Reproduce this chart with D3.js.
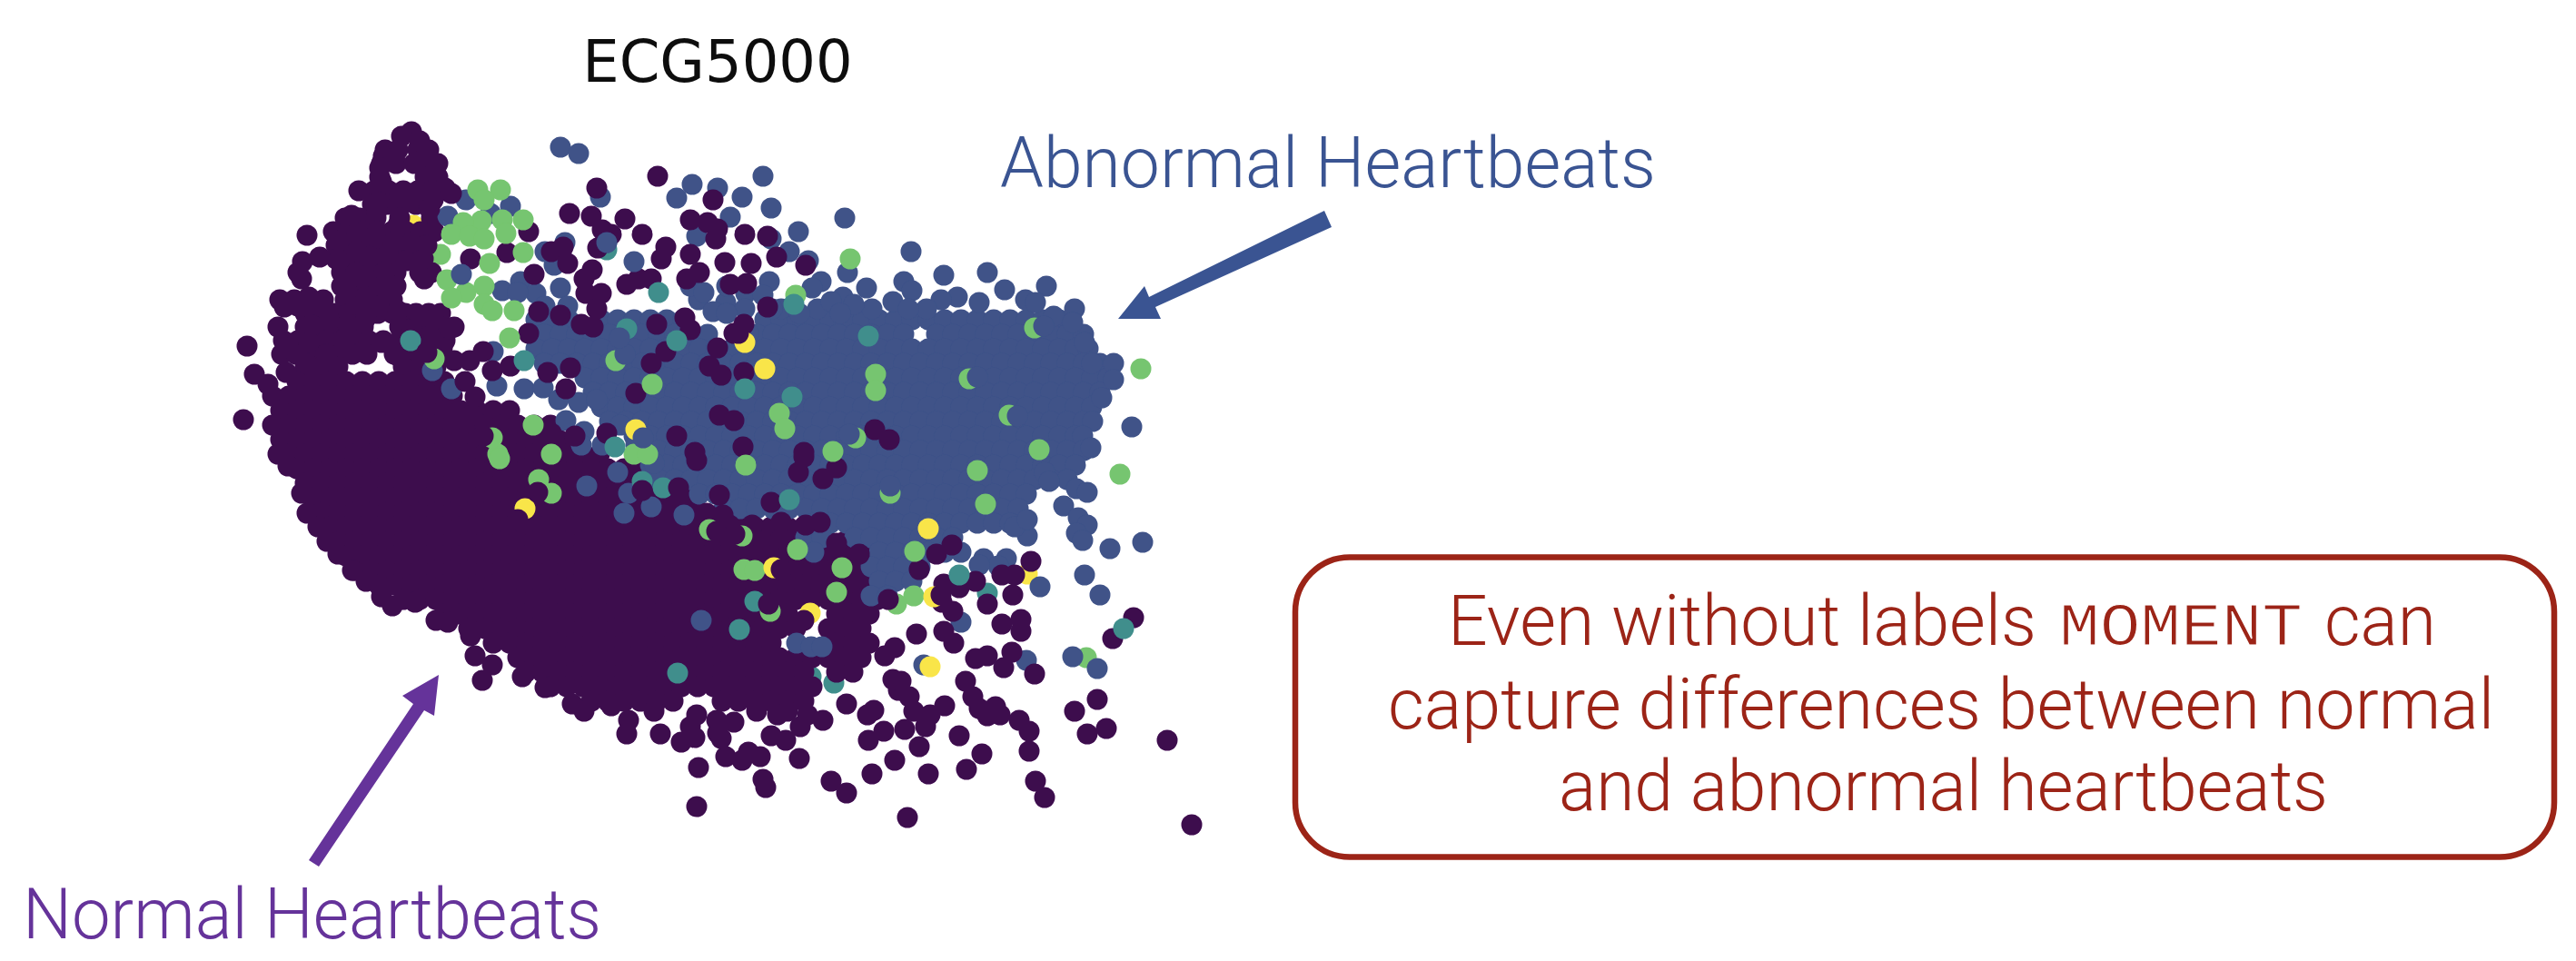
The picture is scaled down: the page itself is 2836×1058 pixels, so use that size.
<!DOCTYPE html>
<html>
<head>
<meta charset="utf-8">
<title>ECG5000</title>
<script src="https://cdn.jsdelivr.net/npm/d3@7"></script>
<style>
  html, body { margin: 0; padding: 0; background: #fff; }
  svg { display: block; }
  .label { font-family: Roboto, "Liberation Sans", sans-serif; font-weight: 300; }
</style>
</head>
<body>
<div id="chart"></div>
<script>
// Class names and colours (viridis, five ECG classes)
const classNames = ['normal', 'abnormal', 'teal', 'green', 'yellow'];
const classColors = ['#3d0a4e', '#3f5288', '#3f8e8c', '#76c56f', '#f9e54a'];

// Embedding values. Dense areas as rows: [v, [u, u, ...]]
const normalRows = [
  // upper left ridge
  [65, [224,238,260,272]],
  [80, [220,236,256,272,282]],
  [95, [218,268,282]],
  [110, [212,228,244,260,276,292]],
  [125, [210,226,242,258,272]],
  [140, [180,196,214,240,275]],
  [155, [167,183,199,215,231,247,263,278]],
  [170, [170,186,202,218,234,250,268]],
  [185, [170,186,202,218,234,250,266]],
  [200, [176,192,208,224,236,262,275]],
  [215, [176,192,208,224,236]],
  [230, [108,124,140,156,180,196,212,232]],
  [245, [136,152,168,184,200,216,232,246,258,272,285]],
  [260, [136,152,168,184,200,240,256,272,288,300]],
  [275, [112,128,144,160,176,190,206,222,240,256,272,290]],
  [290, [110,126,142,158,174,188,204,234,250,265]],
  // dense band
  [304, [136,154,172,244,262,280]],
  [320, [127,145,163,181,199,217,235,253,271,289]],
  [336, [100,118,136,154,172,190,208,226,244,262,280,298]],
  [352, [109,127,145,163,181,199,217,235,253,271,289,307,325,343,361]],
  [368, [100,118,136,154,172,190,208,226,244,262,280,298,316,334,352,370,388,406]],
  [384, [109,127,145,163,181,199,217,235,253,271,289,307,325,343,361,379,397,415,433]],
  [400, [106,118,136,154,172,190,208,226,244,262,280,298,316,334,352,370,388,406,424,442,460]],
  [416, [127,145,163,181,199,217,235,253,271,289,307,325,343,361,379,397,415,433,451,469,487,505]],
  [432, [136,154,172,190,208,226,244,262,280,298,316,334,352,370,388,406,424,442,460,478,496,514,532,550]],
  [448, [145,163,181,199,217,235,253,271,289,307,325,343,361,379,397,415,433,451,469,487,505,523,541,559]],
  [464, [154,172,190,208,226,244,262,280,298,316,334,352,370,388,406,424,442,460,478,496,514,532,550,568]],
  [480, [163,181,199,217,235,253,271,289,307,325,343,361,379,397,415,433,451,469,487,505,523,541,559,577,595,613,631,649,667,685,703]],
  [496, [172,190,208,226,244,262,280,298,316,334,352,370,388,406,424,442,460,478,496,514,532,550,568,586,604,622,640,658,676,694,712,730,748]],
  [512, [181,199,217,235,253,271,289,307,325,343,361,379,397,415,433,451,469,487,505,523,541,559,577,595,613,631,649,667,685,703,721,739,757]],
  [528, [190,208,226,244,262,280,298,316,334,352,370,388,406,424,442,460,478,496,514,532,550,568,586,604,622,640,658,676,694,712,730,748]],
  [544, [217,235,253,271,289,307,325,343,361,379,397,415,433,451,469,487,505,523,541,559,577,595,613,631,649,667,685,703,721,739,757]],
  [560, [244,262,280,298,316,334,352,370,388,406,424,442,460,478,496,514,532,550,568,586,604,622,640,658,676,694,712,730,748,766]],
  [576, [289,307,325,343,361,379,397,415,433,451,469,487,505,523,541,559,577,595,613,631,649,667,721,739,757]],
  [592, [316,334,352,370,388,406,424,442,460,478,496,514,532,550,568,586,604,622,640,658,676,712,730,748]],
  [608, [343,361,379,397,415,433,451,469,487,505,523,541,559,577,595,613,631,649,721,739,757]],
  [624, [370,388,406,424,442,460,478,496,514,532,550,568,586,604,622,640,658,676,694,712,730,748]],
  [640, [379,397,415,433,451,469,487,505,523,541,559,577,595,613,631,649,667,685,721,739]],
  [656, [406,424,442,460,478,496,514,532,550,568,586,604,622,640,658,676,694]],
  [672, [451,469,487,505,523,541,595,613,631,649,667,685]]
];

const abnormalRows = [
  [252, [390,408,426,462,480,498,516,534,552,642,660,678,696,714,732,750,768,786,804,822,840,858,876,894,912,930,948,966]],
  [268, [399,417,435,453,471,489,507,525,543,561,579,633,651,669,687,705,723,741,759,777,795,831,849,867,885,903,921,939,957,975,993]],
  [284, [390,408,426,444,462,480,498,516,534,552,570,588,606,624,642,660,678,696,714,732,750,768,786,804,822,840,858,876,894,912,930,948,966,984,998]],
  [300, [399,417,435,453,471,489,507,525,543,561,579,597,615,633,651,669,687,705,723,741,759,777,795,813,831,849,867,885,903,921,939,957,975,993,1011]],
  [316, [444,462,480,498,516,534,552,570,588,606,624,642,660,678,696,714,732,750,768,786,804,822,840,858,876,894,912,930,948,966,984,1002,1020]],
  [332, [453,471,489,507,525,543,561,579,597,615,633,651,669,687,705,723,741,759,777,795,813,831,849,867,885,903,921,939,957,975,993,1011]],
  [348, [462,480,498,516,534,552,570,588,606,624,642,660,678,696,714,732,750,768,786,804,822,840,858,876,894,912,930,948,966,984,1002]],
  [364, [471,489,507,525,543,561,579,597,615,633,651,669,687,705,723,741,759,777,795,813,831,849,867,885,903,921,939,957,975,993,1003]],
  [380, [498,516,534,552,570,588,606,624,642,660,678,696,714,732,750,768,786,804,822,840,858,876,894,912,930,948,966,984,992]],
  [396, [507,525,543,561,579,597,615,633,651,669,687,705,723,741,759,777,795,813,831,849,867,885,903,921,939,957,975,993]],
  [412, [516,534,552,570,588,606,624,642,660,678,696,714,732,750,768,786,804,822,840,858,876,894,912,930,948,966,984]],
  [428, [525,543,561,579,597,615,633,651,669,687,705,723,741,759,777,795,813,831,849,867,885,903,921,939,957,975]],
  [444, [570,588,606,624,642,660,678,696,714,732,750,768,786,804,822,840,858,876,894,912,930]],
  [460, [597,615,633,651,669,687,705,723,741,759,777,795,813,831,849,867,885,903,921]],
  [476, [696,714,732,750,768,786,804,822,840,858,876,894,912]],
  [492, [687,705,741,759,777,795,813,831,849]],
  [508, [696,768,786,804,822,840,858]],
  [524, [759,777,795,813]],
  [540, [768,786,804]],
  [556, [759,777]]
];

// Single points around the dense areas
const normalScatter = [
  // upper left ridge
  [253,45],[242,50],[262,55],[270,67],[222,72],[233,75],[280,83],[218,85],[220,100],[290,107],[195,110],[297,113],
  [240,117],[260,115],[277,120],[217,123],[187,137],[215,132],[273,130],[238,148],[138,159],[173,165],[193,157],[213,160],
  [233,167],[253,167],[270,170],[152,183],[133,188],[128,200],[132,207],[173,187],[193,177],[207,183],[227,180],[247,187],
  [263,187],[267,207],[223,200],[183,210],[203,207],[217,217],[183,223],[203,227],[227,223],[140,227],[113,238],[128,237],
  [152,237],[238,242],[262,248],[277,252],[217,237],[197,237],[295,262],[287,283],[106,260],[143,258],[163,253],[183,257],
  [203,250],[253,263],[273,270],[72,281],[118,283],[140,277],[180,273],[200,287],[220,277],[240,293],[260,287],[80,312],
  [95,323],[115,310],[137,300],[160,290],[68,362],
  // lower edge of the dense band
  [117,413],[132,443],[138,465],[150,480],[160,496],[172,510],[188,528],[203,540],[220,557],[232,567],[257,563],[280,583],[293,585],
  [318,600],[323,622],[342,632],[331,649],[375,645],[400,657],[430,675],[443,683],[473,677],[492,693],[490,708],[527,708],
  [520,683],[550,717],[560,700],[567,687],
  // mixed middle, top
  [524,94],[457,107],[427,135],[451,138],[488,141],[507,158],[463,153],[458,173],[473,158],[533,172],[528,185],[407,177],
  [420,172],[388,202],[425,190],[382,155],[358,178],[318,185],[452,197],[443,207],[490,213],[503,207],[517,207],[445,223],
  [462,223],[457,240],[440,257],[453,260],[417,247],[393,243],[382,267],[403,310],[428,305],[423,328],[500,333],[517,300],
  [533,287],[523,257],[407,377],[433,380],[468,377],[342,308],[362,303],[317,297],[332,287],[300,297],[312,320],[323,337],
  [303,357],[320,357],
  // mixed middle, right of 740
  [585,120],[560,142],[579,145],[590,152],[588,163],[620,158],[645,160],[655,183],[687,192],[560,180],[598,189],[627,190],
  [570,200],[556,207],[604,213],[622,212],[645,238],[554,250],[560,263],[608,267],[619,257],[590,283],[581,303],[594,313],
  [619,310],[763,373],[779,384],[618,392],[685,398],[592,357],[608,363],[565,398],[545,380],
  // upper side of the lower band
  [679,420],[706,427],[721,415],[685,403],[567,407],[592,445],[578,465],[596,467],[649,453],[603,478],[628,478],[660,475],
  [660,493],[687,478],[703,475],[721,498],[746,510],[831,510],[848,500],[812,527],
  // right of the dense band
  [935,518],[917,533],[903,533],[915,555],[887,565],[874,540],[856,547],[839,543],[849,573],[837,563],[809,598],[839,595],
  [850,608],[785,613],[774,622],[874,625],[887,622],[905,635],[914,618],[939,642],[903,587],[924,582],[924,595],[983,683],
  [1008,670],[997,708],[1018,702],[1085,715],[1112,808],[1048,580],[1025,603],
  // lower scatter
  [567,788],[569,745],[565,712],[640,758],[643,767],[680,735],[715,760],[732,773],[760,752],[785,737],[799,800],[822,752],
  [812,722],[864,747],[881,730],[856,710],[933,727],[940,760],[950,778],[933,705],[922,693],[901,687],[887,688],[896,678],
  [878,680],[871,667],[863,650],[840,677],[819,700],[824,687],[806,683],[796,703],[801,667],[789,660],[783,648],[792,650],
  [773,705],[756,715],[755,687],[762,682],[732,675],[706,693],[689,687],[667,683],[656,687],[681,700],[665,715],[649,710],
  [633,683],[637,733],[617,737],[599,733],[624,728],[594,713],[590,707],[608,695],[589,693]
];

const abnormalScatter = [
  // top and upper rim
  [640,94],[562,103],[590,107],[545,118],[617,117],[649,129],[604,139],[730,140],[679,155],[803,177],[839,203],[887,200],
  [952,215],[983,240],[994,277],[1026,300],[1002,300],[1026,318],[1013,338],[1046,370],[906,219],[929,230],[940,233],[960,248],
  [981,255],[854,227],[878,233],[836,230],[795,210],[804,220],[783,232],[754,217],[760,240],[733,200],[728,227],[704,210],
  [694,217],[567,160],[649,163],[669,177],[690,187],[647,210],[621,223],[599,233],[569,230],[585,243],[624,267],[1001,393],
  [700,240],[660,240],[680,245],[740,235],[820,240],[800,240],[560,215],[575,222],[600,215],[640,225],[620,240],[600,245],[650,240],
  [715,232],[725,245],
  // lower right
  [985,438],[997,442],[971,457],[987,470],[997,478],[985,487],[992,495],[1022,504],[1058,497],[994,533],[1011,555],[945,546],
  [930,627],[981,623],[1008,636],[817,632],[572,583],[858,585],[931,490],[917,480],[931,472],[883,515],[908,515],[899,523],
  [878,522],[950,420],[955,430],
  // left of the dense area
  [417,62],[437,69],[461,117],[468,167],[417,217],[353,220],[373,210],[390,223],[370,222],[400,237],[425,237],[410,192],
  [400,177],[422,167],[313,120],[293,138],[362,127],[340,135],[343,287],[377,328],[398,327],[297,328],[276,308],[347,325],
  [415,340],[437,343],[457,340],[423,363],[443,375],[463,390],[483,368],[446,435],[492,443],[487,465],[517,458],[553,467],
  [500,390],[480,420],[520,410],[440,390],[677,608],[693,612],[705,612]
];

// Drawn before the normal rows
const hiddenYellow = [[255,148],[931,532]];
const hiddenTeal = [[693,645],[718,652],[887,553],[468,175]];
const hiddenGreen = [[996,624],[285,180]];

// Drawn on top of everything above
const topGreen = [
  [326,109],[351,109],[333,120],[376,142],[353,142],[330,143],[310,145],[297,158],[317,160],[333,163],[357,157],[376,178],
  [339,190],[292,208],[313,222],[297,228],[333,215],[333,235],[342,242],[366,242],[361,272],[387,368],[407,400],[348,400],
  [498,400],[513,400],[518,323],[350,405],[736,185],[676,225],[764,312],[764,330],[658,355],[664,372],[717,397],[944,395],
  [1056,306],[1033,422],[621,412],[807,507],[806,556],[727,525],[721,552],[619,527],[631,528],[876,418],[885,455],[678,505],
  // partly covered below
  [939,261],[911,357],[867,317],[742,382],[648,573],[581,483],[617,490],[780,443],[787,565],[278,295],[342,382],[478,297],
  [393,428],[407,443]
];
const topTeal = [
  [252,275],[377,297],[477,392],[525,222],[546,641],[674,235],[620,328],[672,337],[756,270],[545,275],[1037,592],[614,593],
  [856,533],[669,450],[631,562],
  // partly covered below
  [490,262],[507,430],[530,437]
];
const topYellow = [[824,634],[642,306],[822,482],[620,277],[378,460],[500,373],[828,557],[652,525],[692,575]];

// Points that sit over the accents and leave crescents
const coverNormal = [
  [646,565],[589,485],[609,488],[778,560],[270,288],[332,380],[392,442],[613,267],[370,472],[836,555],[660,527],[685,583],
  [507,440],[547,437]
];
const coverAbnormal = [[949,259],[920,358],[876,315],[735,378],[780,435],[488,290],[508,382],[482,272],[308,202],[498,188],[468,167]];

const drawOrder = [
  ['yellow', hiddenYellow],
  ['teal', hiddenTeal],
  ['green', hiddenGreen],
  ['normal', normalRows.flatMap(([v, us]) => us.map(u => [u, v]))],
  ['abnormal', abnormalRows.flatMap(([v, us]) => us.map(u => [u, v]))],
  ['abnormal', abnormalScatter],
  ['normal', normalScatter],
  ['green', topGreen],
  ['teal', topTeal],
  ['yellow', topYellow],
  ['normal', coverNormal],
  ['abnormal', coverAbnormal]
];

const width = 2836;
const height = 1058;
const pointRadius = 11.5;

const svg = d3.select('#chart')
  .append('svg')
  .attr('width', width)
  .attr('height', height)
  .attr('viewBox', `0 0 ${width} ${height}`);

// The scatter is an upscaled bitmap in the original, so soften it a little
const blur = svg.append('defs').append('filter').attr('id', 'soft');
blur.append('feGaussianBlur').attr('stdDeviation', 0.7);

const x = d3.scaleLinear().domain([0, 1150]).range([200, 1350]);
const y = d3.scaleLinear().domain([0, 850]).range([100, 950]);
const color = d3.scaleOrdinal().domain(classNames).range(classColors);

// Scatter points
const points = svg.append('g').attr('class', 'points').attr('filter', 'url(#soft)');
drawOrder.forEach(([cls, values]) => {
  points.append('g')
    .selectAll('circle')
    .data(values)
    .join('circle')
    .attr('cx', d => x(d[0]))
    .attr('cy', d => y(d[1]))
    .attr('r', pointRadius)
    .attr('fill', color(cls));
});

// Title
svg.append('text')
  .attr('x', 790)
  .attr('y', 90)
  .attr('text-anchor', 'middle')
  .attr('filter', 'url(#soft)')
  .style('font-family', '"DejaVu Sans"')
  .style('font-size', '64px')
  .attr('fill', '#111')
  .text('ECG5000');

// Annotations
const abnormalBlue = '#3a5492';
const normalPurple = '#65339a';

svg.append('text')
  .attr('class', 'label')
  .attr('x', 1101)
  .attr('y', 206)
  .attr('textLength', 722)
  .attr('lengthAdjust', 'spacingAndGlyphs')
  .style('font-size', '78px')
  .attr('fill', abnormalBlue)
  .text('Abnormal Heartbeats');

svg.append('text')
  .attr('class', 'label')
  .attr('x', 25)
  .attr('y', 1033)
  .attr('textLength', 637)
  .attr('lengthAdjust', 'spacingAndGlyphs')
  .style('font-size', '78px')
  .attr('fill', normalPurple)
  .text('Normal Heartbeats');

svg.append('path')
  .attr('d', 'M1458,232 L1466,250 L1272,338 L1278,351 L1231,351 L1260,315 L1265,327 Z')
  .attr('fill', abnormalBlue);

svg.append('path')
  .attr('d', 'M340,947 L351,954 L467,782 L478,788 L483,743 L443,766 L455,775 Z')
  .attr('fill', normalPurple);

// Callout box
const calloutRed = '#9c2417';
svg.append('rect')
  .attr('x', 1426)
  .attr('y', 613.5)
  .attr('width', 1386)
  .attr('height', 330)
  .attr('rx', 60)
  .attr('ry', 60)
  .attr('fill', 'none')
  .attr('stroke', calloutRed)
  .attr('stroke-width', 6.5);

const calloutStyle = sel => sel
  .attr('class', 'label')
  .attr('fill', calloutRed)
  .style('font-size', '77px');

const line1 = svg.append('text').call(calloutStyle).attr('y', 710);
line1.append('tspan')
  .attr('x', 1594).attr('textLength', 648).attr('lengthAdjust', 'spacingAndGlyphs')
  .text('Even without labels');
line1.append('tspan').text(' ');
line1.append('tspan')
  .attr('x', 2267).attr('textLength', 268).attr('lengthAdjust', 'spacingAndGlyphs')
  .style('font-family', '"Liberation Mono"').style('font-size', '66px').style('font-weight', 400)
  .attr('stroke', '#fff').attr('stroke-width', 1.2)
  .text('MOMENT');
line1.append('tspan').text(' ');
line1.append('tspan')
  .attr('x', 2559).attr('textLength', 123).attr('lengthAdjust', 'spacingAndGlyphs')
  .text('can');

svg.append('text').call(calloutStyle)
  .attr('x', 1528).attr('y', 802)
  .attr('textLength', 1218).attr('lengthAdjust', 'spacingAndGlyphs')
  .text('capture differences between normal');

svg.append('text').call(calloutStyle)
  .attr('x', 1716).attr('y', 892)
  .attr('textLength', 847).attr('lengthAdjust', 'spacingAndGlyphs')
  .text('and abnormal heartbeats');
</script>
</body>
</html>
